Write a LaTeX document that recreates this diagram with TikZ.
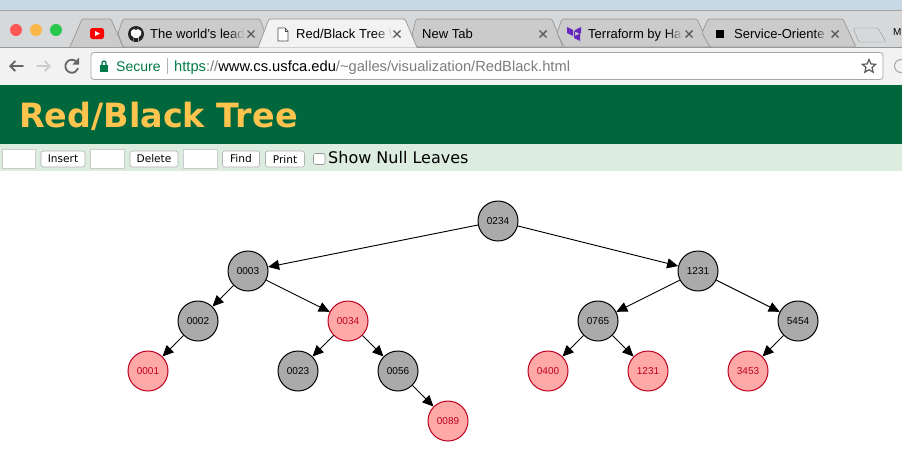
\documentclass[tikz,border=0pt]{standalone}
\usepackage{fontspec}
\setmainfont{Liberation Sans}
\newfontfamily\verdanafont{DejaVu Sans}
\usepackage{xcolor}
\usetikzlibrary{arrows.meta,fadings,shapes.geometric}
\definecolor{skyColor}{RGB}{200, 217, 230}
\definecolor{barColor}{RGB}{214, 216, 218}
\definecolor{tabColor}{RGB}{203, 203, 203}
\definecolor{tabLine}{RGB}{150, 150, 150}
\definecolor{toolColor}{RGB}{242, 242, 242}
\definecolor{headColor}{RGB}{0, 102, 60}
\definecolor{titleColor}{RGB}{255, 196, 77}
\definecolor{ctrlColor}{RGB}{220, 236, 223}
\definecolor{blackNode}{RGB}{170, 170, 170}
\definecolor{redNode}{RGB}{255, 168, 168}
\definecolor{redLine}{RGB}{190, 0, 30}
\definecolor{secureColor}{RGB}{0, 121, 72}
\definecolor{urlGray}{RGB}{125, 125, 125}
\definecolor{closeColor}{RGB}{252, 87, 83}
\definecolor{minColor}{RGB}{250, 182, 70}
\definecolor{zoomColor}{RGB}{40, 200, 80}
\tikzset{
  blacktree/.style={circle, draw=black, fill=blackNode, line width=1pt, minimum size=40pt, inner sep=0pt, font=\fontsize{10}{12}\selectfont},
  redtree/.style={circle, draw=redLine, fill=redNode, text=redLine, line width=1pt, minimum size=40pt, inner sep=0pt, font=\fontsize{10}{12}\selectfont},
  link/.style={-{Triangle[length=11pt,width=10pt]}, line width=0.9pt},
  tab/.style={draw=tabLine, fill=tabColor, line width=0.7pt},
  tabtext/.style={anchor=base west, inner sep=0pt, font=\fontsize{13}{15}\selectfont},
  tabx/.style={draw=black!65, line width=1.4pt},
  inputbox/.style={draw=black!20, fill=white, line width=0.6pt},
  pagebutton/.style={draw=black!30, fill=white, rounded corners=2.5pt, line width=0.6pt, minimum height=16pt, inner sep=0pt, font=\verdanafont\fontsize{10.6}{13}\selectfont},
  navicon/.style={line width=1.8pt, line cap=round}
}
\begin{document}
\begin{tikzpicture}[x=1pt,y=-1pt]
    \useasboundingbox (0,0) rectangle (902,472);
    \fill[white] (0,0) rectangle (902,472);
    % Browser chrome
    \fill[skyColor] (0,0) rectangle (902,10);
    \fill[barColor] (0,10) rectangle (902,47);
    \draw[black!35] (0,10.5) -- (902,10.5);
    \fill[toolColor] (0,47) rectangle (902,85);
    \draw[tabLine] (0,47) -- (902,47);
    \fill[headColor] (0,85) rectangle (902,144);
    \fill[ctrlColor] (0,144) rectangle (902,171);
    % Window buttons
    \fill[closeColor] (16,30) circle (6pt);
    \fill[minColor] (36,30) circle (6pt);
    \fill[zoomColor] (56,30) circle (6pt);
    % Tabs
    \draw[tab, rounded corners=1.5pt] (70,47) -- (82,19) -- (111,19) -- (123,47);
    \draw[tab, rounded corners=1.5pt] (118,33) -- (123,19) -- (260,19) -- (270,47) -- (123,47) -- cycle;
    \draw[tab, rounded corners=1.5pt] (412,35) -- (416,19) -- (552,19) -- (563,47) -- (416,47) -- cycle;
    \draw[tab, rounded corners=1.5pt] (557,33) -- (562,19) -- (697,19) -- (710,47) -- (564,47) -- cycle;
    \draw[tab, rounded corners=1.5pt] (702,33) -- (708,19) -- (843,19) -- (856,47) -- (710,47) -- cycle;
    \draw[tab, fill=toolColor, rounded corners=1.5pt] (258,47.5) -- (269,19) -- (405,19) -- (417,47.5);
    \draw[tabLine, fill=barColor, rounded corners=1.5pt] (853,28) -- (878,28) -- (886,42) -- (859,42) -- cycle;
    % Tab contents
    \fill[red, rounded corners=2.5pt] (90,28) rectangle (104,39);
    \fill[white] (95,31) -- (100,33.5) -- (95,36) -- cycle;
    \fill[black!85] (136,34) circle (8pt);
    \fill[white] (134,29) -- (136,30) -- (138,29) -- (141,31) -- (141,35) -- (138.5,37) -- (138.5,41) -- (133.5,41) -- (133.5,37) -- (131,35) -- (131,31) -- cycle;
    \fill[black!85] (134,38) rectangle (138,42);
    \draw[black!70, fill=white, line width=0.7pt] (278,28) -- (285,28) -- (288,31) -- (288,41) -- (278,41) -- cycle;
    \draw[black!70, line width=0.7pt] (285,28) -- (285,31) -- (288,31);
    \fill[violet!60!blue!85!white] (567,27) -- (573,30) -- (573,36) -- (567,33) -- cycle (574,31) -- (580,34) -- (580,41) -- (574,38) -- cycle (581,33) -- (581,27) -- (575,30) -- (575,36) -- cycle;
    \fill[black] (716,30) rectangle (724,38);
    \node[tabtext] (tabgit) at (150,38) {The world's lead};
    \node[tabtext] (tabtree) at (296,38) {Red/Black Tree \textbackslash};
    \node[tabtext] (tabnew) at (422,38) {New Tab};
    \node[tabtext] (tabform) at (588,38) {Terraform by Ha};
    \node[tabtext] (tabsoa) at (734,38) {Service-Oriente};
    % Long titles fade out before the close mark
    \fill[tabColor, path fading=west] (228,24) rectangle (244,43);
    \fill[toolColor, path fading=west] (374,24) rectangle (392,43);
    \fill[tabColor, path fading=west] (668,24) rectangle (682,43);
    \fill[tabColor, path fading=west] (814,24) rectangle (828,43);
    \foreach \tabx in {251,397,543,689,835} {
        \draw[tabx] (\tabx-3.5,30.5) -- (\tabx+3.5,37.5) (\tabx+3.5,30.5) -- (\tabx-3.5,37.5);
    }
    \node[anchor=base west, inner sep=0pt, font=\fontsize{10}{12}\selectfont] (corner) at (893,35) {M};
    % Toolbar
    \draw[navicon, black!60, -{Straight Barb[length=5pt,width=10pt]}] (23,66) -- (9,66);
    \draw[navicon, black!20, -{Straight Barb[length=5pt,width=10pt]}] (37,66) -- (51,66);
    \draw[navicon, black!60] (77.5,63) arc (30:340:6.5pt);
    \fill[black!60] (79,57.5) -- (79,64.5) -- (72.5,64.5) -- cycle;
    \draw[black!35, fill=white, rounded corners=3pt, line width=0.8pt] (91,52.5) rectangle (883,79.5);
    \fill[secureColor] (100,65) rectangle (108,72);
    \draw[secureColor, line width=1.2pt] (102,65) -- (102,63) arc (180:0:2pt) -- (106,65);
    \draw[black!30] (167.5,58) -- (167.5,74);
    \node[anchor=base west, inner sep=0pt, text=secureColor, font=\fontsize{14}{16}\selectfont] (secure) at (116,71) {Secure};
    \node[anchor=base west, inner sep=0pt, text=urlGray, font=\fontsize{14.7}{16}\selectfont] (url) at (174,71) {\textcolor{secureColor}{https}://\textcolor{black}{www.cs.usfca.edu}/\string~galles/visualization/RedBlack.html};
    \node[star, star points=5, star point ratio=2.2, draw=black!65, line width=1.2pt, inner sep=0pt, minimum size=14pt] (bookmark) at (869,66.5) {};
    \draw[black!35, line width=1pt] (901,66) circle (6.5pt);
    % Page header
    \node[anchor=base west, inner sep=0pt, text=titleColor, font=\verdanafont\bfseries\fontsize{33.4}{38}\selectfont] (title) at (19,127) {Red/Black Tree};
    % Controls
    \draw[inputbox] (2,149.5) rectangle (35,168);
    \draw[inputbox] (90.5,149.5) rectangle (124.5,168);
    \draw[inputbox] (183.5,149.5) rectangle (217.5,168);
    \node[pagebutton, minimum width=44pt] (insert) at (63,159) {Insert};
    \node[pagebutton, minimum width=48pt] (delete) at (154,159) {Delete};
    \node[pagebutton, minimum width=37pt] (find) at (241,159) {Find};
    \node[pagebutton, minimum width=39pt] (print) at (285,159) {Print};
    \draw[black!40, fill=white, rounded corners=2pt, line width=0.6pt] (313.5,153.5) rectangle (325,164.5);
    \node[anchor=base west, inner sep=0pt, font=\verdanafont\fontsize{16}{18}\selectfont] (nullleaves) at (328,163) {Show Null Leaves};
    % Tree
    \node[blacktree] (n0234) at (498,221) {0234};
    \node[blacktree] (n0003) at (248,271) {0003};
    \node[blacktree] (n1231) at (698,271) {1231};
    \node[blacktree] (n0002) at (198,321) {0002};
    \node[redtree] (n0034) at (348,321) {0034};
    \node[blacktree] (n0765) at (598,321) {0765};
    \node[blacktree] (n5454) at (798,321) {5454};
    \node[redtree] (n0001) at (148,371) {0001};
    \node[blacktree] (n0023) at (298,371) {0023};
    \node[blacktree] (n0056) at (398,371) {0056};
    \node[redtree] (n0400) at (548,371) {0400};
    \node[redtree] (r1231) at (648,371) {1231};
    \node[redtree] (n3453) at (748,371) {3453};
    \node[redtree] (n0089) at (448,421) {0089};

    \draw[link] (n0234) -- (n0003);
    \draw[link] (n0234) -- (n1231);
    \draw[link] (n0003) -- (n0002);
    \draw[link] (n0003) -- (n0034);
    \draw[link] (n0002) -- (n0001);
    \draw[link] (n0034) -- (n0023);
    \draw[link] (n0034) -- (n0056);
    \draw[link] (n0056) -- (n0089);
    \draw[link] (n1231) -- (n0765);
    \draw[link] (n1231) -- (n5454);
    \draw[link] (n0765) -- (n0400);
    \draw[link] (n0765) -- (r1231);
    \draw[link] (n5454) -- (n3453);
\end{tikzpicture}
\end{document}
